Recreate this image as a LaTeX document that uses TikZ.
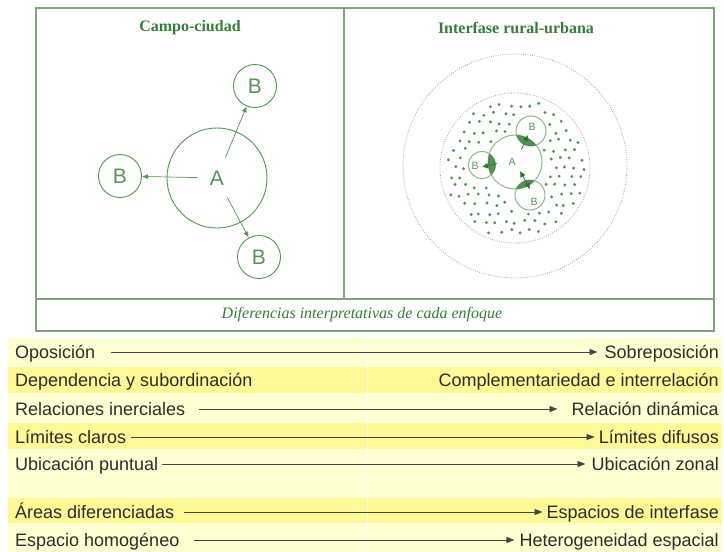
\documentclass[tikz,border=0pt]{standalone}
\usepackage{fontspec}
\setmainfont{Liberation Sans}
\newfontfamily\serifx{Liberation Serif}
\usetikzlibrary{arrows.meta,calc}
\definecolor{frame}{RGB}{125,165,125}
\definecolor{gtxt}{RGB}{55,125,55}
\definecolor{gline}{RGB}{85,150,85}
\definecolor{lgline}{RGB}{140,185,140}
\definecolor{dotc}{RGB}{85,145,85}
\definecolor{lens}{RGB}{45,115,45}
\definecolor{rowlight}{RGB}{255,255,210}
\definecolor{rowdark}{RGB}{255,248,150}
\definecolor{tline}{RGB}{70,70,70}
\definecolor{tgray}{RGB}{45,45,45}
\begin{document}
\begin{tikzpicture}[x=1pt,y=-1pt,
  panel/.style={draw=frame,line width=1.3pt},
  ptitle/.style={text=gtxt,font=\serifx\bfseries\fontsize{16}{16}\selectfont},
  bigc/.style={circle,draw=gline,line width=0.9pt,inner sep=0pt,text=gline,font=\fontsize{21}{21}\selectfont},
  smallc/.style={circle,draw=lgline,line width=1pt,inner sep=0pt},
  slabel/.style={text=gline,font=\fontsize{10.5}{10.5}\selectfont,inner sep=0pt},
  garr/.style={draw=gline,line width=0.7pt,-{Latex[length=6pt,width=5pt]}},
  sarr/.style={draw=lens,line width=0.8pt,-{Latex[length=6pt,width=6pt]}},
  dotring/.style={draw=gray!75,line width=0.9pt,dash pattern=on 0.7pt off 1.6pt},
  tl/.style={anchor=west,inner sep=0pt,text height=12pt,text depth=0pt,text=tgray,font=\fontsize{18}{18}\selectfont},
  tr/.style={anchor=east,inner sep=0pt,text height=12pt,text depth=0pt,text=tgray,font=\fontsize{18}{18}\selectfont},
  tarr/.style={draw=tline,line width=0.8pt,-{Triangle[length=8pt,width=6pt]}}
]
\useasboundingbox (0,0) rectangle (724,552);
\fill[white] (0,0) rectangle (724,552);

% ---- frame
\draw[panel] (36,8) rectangle (714,331);
\draw[panel] (36,299) -- (714,299);
\draw[panel] (344,8) -- (344,299);

\node[ptitle] (t1) at (190,28) {Campo-ciudad};
\node[ptitle] (t2) at (516,28) {Interfase rural-urbana};
\node[text=gtxt,font=\serifx\itshape\fontsize{16}{16}\selectfont] (cap) at (362,315) {Diferencias interpretativas de cada enfoque};

% ---- left panel
\node[bigc,minimum size=100pt] (a) at (217,178) {A};
\node[bigc,minimum size=43pt] (b1) at (255,86) {B};
\node[bigc,minimum size=43pt] (b2) at (120,176) {B};
\node[bigc,minimum size=43pt] (b3) at (259,257) {B};
\draw[garr] ($(a)!22pt!(b1)$) -- (b1);
\draw[garr] ($(a)!20pt!(b2)$) -- (b2);
\draw[garr] ($(a)!22pt!(b3)$) -- (b3);

% ---- right panel
\draw[dotring] (515,166) circle[radius=112];
\draw[dotring] (515,168) circle[radius=75];
\pgfmathsetseed{7}
\foreach \i in {-8,...,8} {
  \foreach \j in {-9,...,9} {
    \pgfmathsetmacro\px{515+\i*10+mod(\j,2)*5+(rnd-0.5)*4}
    \pgfmathsetmacro\py{168+\j*9+(rnd-0.5)*4}
    \pgfmathsetmacro\ok{and(and(veclen(\px-515,\py-168)<70,veclen(\px-515,\py-162)>31),and(and(veclen(\px-531,\py-131)>19,veclen(\px-482,\py-165)>18),veclen(\px-530,\py-195)>19))}
    \ifdim\ok pt>0.5pt \fill[dotc] (\px,\py) circle[radius=1.6]; \fi
  }
}
\node[smallc,minimum size=54pt] (ra) at (515,162) {};
\node[smallc,minimum size=30pt] (rb1) at (531,131) {};
\node[smallc,minimum size=27pt] (rb2) at (482,165) {};
\node[smallc,minimum size=30pt] (rb3) at (530,195) {};
\begin{scope}
  \clip (ra.center) circle[radius=27];
  \fill[lens,opacity=0.8] (rb1.center) circle[radius=15];
  \fill[lens,opacity=0.8] (rb2.center) circle[radius=13.5];
  \fill[lens,opacity=0.8] (rb3.center) circle[radius=15];
\end{scope}
\node[slabel] (la) at (512,162) {A};
\node[slabel] (lb1) at (532,127) {B};
\node[slabel] (lb2) at (475,166) {B};
\node[slabel] (lb3) at (534,202) {B};
\draw[sarr] ($(ra)!14pt!(rb1)$) -- (528,135);
\draw[sarr] ($(ra)!18pt!(rb2)$) -- (482,167);
\draw[sarr,{Latex[length=6pt,width=6pt]}-{Latex[length=6pt,width=6pt]}] (520,171) -- (530,189);

% ---- table
\fill[rowlight] (8,338) rectangle (722,552);
\fill[rowdark] (8,367) rectangle (722,393);
\fill[rowdark] (8,423) rectangle (722,449);
\fill[rowdark] (8,498) rectangle (722,523);
\draw[white,opacity=0.7,line width=1pt] (367,338) -- (367,552);

\node[tl] (l1) at (15,352) {Oposición};
\node[tr] (r1) at (719,352) {Sobreposición};
\node[tl] (l2) at (15,380) {Dependencia y subordinación};
\node[tr] (r2) at (719,380) {Complementariedad e interrelación};
\node[tl] (l3) at (15,409) {Relaciones inerciales};
\node[tr] (r3) at (719,409) {Relación dinámica};
\node[tl] (l4) at (15,437) {Límites claros};
\node[tr] (r4) at (719,437) {Límites difusos};
\node[tl] (l5) at (15,464) {Ubicación puntual};
\node[tr] (r5) at (719,464) {Ubicación zonal};
\node[tl] (l6) at (15,512) {Áreas diferenciadas};
\node[tr] (r6) at (719,512) {Espacios de interfase};
\node[tl] (l7) at (15,540) {Espacio homogéneo};
\node[tr] (r7) at (719,540) {Heterogeneidad espacial};

\draw[tarr,shorten <=16pt,shorten >=7pt] (l1.east) -- (r1.west);
\draw[tarr,shorten <=14pt,shorten >=14pt] (l3.east) -- (r3.west);
\draw[tarr,shorten <=5pt,shorten >=4pt] (l4.east) -- (r4.west);
\draw[tarr,shorten <=4pt,shorten >=6pt] (l5.east) -- (r5.west);
\draw[tarr,shorten <=10pt,shorten >=4pt] (l6.east) -- (r6.west);
\draw[tarr,shorten <=14pt,shorten >=5pt] (l7.east) -- (r7.west);
\end{tikzpicture}
\end{document}
